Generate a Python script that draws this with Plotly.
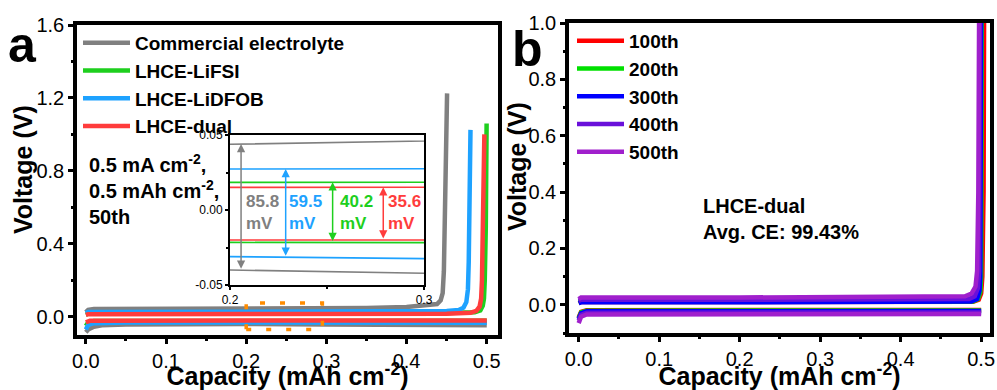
import numpy as np
import plotly.graph_objects as go

# ---------------- data: panel a ----------------
comm_strip_cap = [0, 0.003, 0.01, 0.1, 0.2, 0.3, 0.35, 0.4, 0.43, 0.438, 0.4425, 0.445, 0.4465, 0.448, 0.4505]
comm_strip_v = [0.025, 0.038, 0.042, 0.043, 0.0438, 0.046, 0.048, 0.053, 0.062, 0.07, 0.09, 0.13, 0.25, 0.55, 1.225]
comm_dep_cap = [0, 0.003, 0.01, 0.02, 0.05, 0.1, 0.2, 0.3, 0.4, 0.5]
comm_dep_v = [-0.085, -0.07, -0.055, -0.047, -0.042, -0.040, -0.040, -0.0422, -0.044, -0.046]

fsi_strip_cap = [0, 0.003, 0.2, 0.3, 0.45, 0.485, 0.492, 0.495, 0.4965, 0.4975, 0.4988, 0.4998]
fsi_strip_v = [0.012, 0.017, 0.0184, 0.0185, 0.020, 0.025, 0.035, 0.06, 0.1, 0.2, 0.5, 1.06]
fsi_dep_cap = [0, 0.003, 0.01, 0.2, 0.3, 0.5]
fsi_dep_v = [-0.05, -0.03, -0.023, -0.0216, -0.0218, -0.022]

dfob_strip_cap = [0, 0.003, 0.2, 0.3, 0.4, 0.45, 0.465, 0.471, 0.4745, 0.4765, 0.4775, 0.4785, 0.4797]
dfob_strip_v = [0.02, 0.026, 0.0273, 0.0275, 0.029, 0.032, 0.037, 0.05, 0.08, 0.15, 0.3, 0.6, 1.025]
dfob_dep_cap = [0, 0.003, 0.01, 0.05, 0.2, 0.3, 0.5]
dfob_dep_v = [-0.07, -0.045, -0.035, -0.031, -0.0311, -0.0324, -0.033]

dual_strip_cap = [0, 0.003, 0.2, 0.3, 0.45, 0.48, 0.487, 0.491, 0.493, 0.494, 0.4955, 0.497]
dual_strip_v = [0.010, 0.014, 0.0151, 0.0152, 0.017, 0.022, 0.032, 0.055, 0.1, 0.2, 0.5, 1.0]
dual_dep_cap = [0, 0.005, 0.2, 0.3, 0.5]
dual_dep_v = [-0.03, -0.022, -0.020, -0.020, -0.020]

names_a = ["Commercial electrolyte", "LHCE-LiFSI", "LHCE-LiDFOB", "LHCE-dual"]
colors_a = ["#808080", "#1ECF1E", "#1EA2FF", "#FF3C3C"]
# overpotential (mV) for each series, same order as names_a
overpotential_labels = ["85.8", "40.2", "59.5", "35.6"]
arrow_cap = [0.2057, 0.2529, 0.2287, 0.279]
label_cap = [0.2167, 0.265, 0.239, 0.2897]
zoom_box_cap = [0.2, 0.295]
zoom_box_v = [-0.07, 0.075]
inset_xticks = [0.2, 0.3]
inset_xtext = ["0.2", "0.3"]
inset_yticks = [-0.05, 0.0, 0.05]
inset_ytext = ["-0.05", "0.00", "0.05"]

# ---------------- data: panel b ----------------
names_b = ["100th", "200th", "300th", "400th", "500th"]
colors_b = ["#FF0000", "#00E000", "#0000FF", "#6A10DA", "#A020CC"]
b_strip_cap = [
    [0, 0.003, 0.2, 0.49, 0.497, 0.5, 0.5015, 0.503, 0.5037],
    [0, 0.003, 0.2, 0.49, 0.496, 0.499, 0.5, 0.5005, 0.5008],
    [0, 0.003, 0.2, 0.488, 0.495, 0.498, 0.499, 0.4995, 0.5],
    [0, 0.003, 0.2, 0.485, 0.492, 0.496, 0.4975, 0.498, 0.4985],
    [0, 0.003, 0.2, 0.48, 0.488, 0.493, 0.495, 0.4965, 0.4975],
]
b_strip_v = [
    [0.006, 0.010, 0.010, 0.011, 0.018, 0.04, 0.1, 0.4, 1.05],
    [0.008, 0.011, 0.011, 0.012, 0.02, 0.045, 0.1, 0.4, 1.05],
    [0.006, 0.009, 0.009, 0.012, 0.02, 0.05, 0.1, 0.4, 1.05],
    [0.014, 0.018, 0.018, 0.021, 0.03, 0.06, 0.12, 0.4, 1.05],
    [0.02, 0.026, 0.026, 0.03, 0.04, 0.065, 0.12, 0.4, 1.05],
]
b_dep_cap = [
    [0, 0.003, 0.01, 0.2, 0.5],
    [0, 0.003, 0.01, 0.2, 0.5],
    [0, 0.003, 0.01, 0.2, 0.5],
    [0, 0.003, 0.01, 0.2, 0.5],
    [0, 0.003, 0.01, 0.2, 0.5],
]
b_dep_v = [
    [-0.045, -0.025, -0.019, -0.018, -0.018],
    [-0.048, -0.027, -0.021, -0.020, -0.020],
    [-0.05, -0.03, -0.023, -0.022, -0.022],
    [-0.055, -0.035, -0.028, -0.027, -0.027],
    [-0.065, -0.042, -0.034, -0.033, -0.033],
]

# ---------------- figure ----------------
FONT = "Liberation Sans, Arial, sans-serif"
W, H = 997, 390
fig = go.Figure()

a_strip = [(comm_strip_cap, comm_strip_v), (fsi_strip_cap, fsi_strip_v),
           (dfob_strip_cap, dfob_strip_v), (dual_strip_cap, dual_strip_v)]
a_dep = [(comm_dep_cap, comm_dep_v), (fsi_dep_cap, fsi_dep_v),
         (dfob_dep_cap, dfob_dep_v), (dual_dep_cap, dual_dep_v)]

for i in range(4):
    (sx, sy), (dx, dy) = a_strip[i], a_dep[i]
    fig.add_trace(go.Scatter(x=sx, y=sy, mode="lines", name=names_a[i],
                             line=dict(color=colors_a[i], width=4.5),
                             xaxis="x", yaxis="y", legend="legend", legendgroup=names_a[i]))
    fig.add_trace(go.Scatter(x=dx, y=dy, mode="lines", name=names_a[i], showlegend=False,
                             line=dict(color=colors_a[i], width=4.5),
                             xaxis="x", yaxis="y", legendgroup=names_a[i]))
# inset
for i in range(4):
    (sx, sy), (dx, dy) = a_strip[i], a_dep[i]
    for xx, yy in ((sx, sy), (dx, dy)):
        fig.add_trace(go.Scatter(x=xx, y=yy, mode="lines", showlegend=False,
                                 line=dict(color=colors_a[i], width=1.6),
                                 xaxis="x3", yaxis="y3"))

for i in range(5):
    fig.add_trace(go.Scatter(x=b_strip_cap[i], y=b_strip_v[i], mode="lines", name=names_b[i],
                             line=dict(color=colors_b[i], width=4.5),
                             xaxis="x2", yaxis="y2", legend="legend2", legendgroup=names_b[i]))
    fig.add_trace(go.Scatter(x=b_dep_cap[i], y=b_dep_v[i], mode="lines", name=names_b[i],
                             showlegend=False, line=dict(color=colors_b[i], width=4.5),
                             xaxis="x2", yaxis="y2", legendgroup=names_b[i]))

def px_x(p):
    return p / W

def px_y(p):
    return 1 - p / H

axis_common = dict(showline=True, linewidth=3.5, linecolor="black", mirror=True,
                   ticks="outside", ticklen=5, tickwidth=3, tickcolor="black",
                   showgrid=False, zeroline=False, automargin=False,
                   tickfont=dict(family=FONT, size=20, color="black"))
title_font = dict(family=FONT, size=25, color="black", weight="bold")
minor_common = dict(ticklen=2.5, tickwidth=3, ticks="outside", tickcolor="black")

fig.update_layout(
    width=W, height=H, margin=dict(l=0, r=0, t=0, b=0),
    paper_bgcolor="white", plot_bgcolor="white", template="none",
    xaxis=dict(domain=[px_x(77), px_x(498)], range=[-0.011, 0.514], dtick=0.1, tick0=0,
               tickformat=".1f", minor=dict(dtick=0.05, **minor_common),
               title=dict(text="Capacity (mAh cm<sup>-2</sup>)", font=title_font, standoff=0),
               anchor="y", **axis_common),
    yaxis=dict(domain=[px_y(335), px_y(25)], range=[-0.1, 1.6], dtick=0.4, tick0=0,
               tickformat=".1f", minor=dict(dtick=0.2, **minor_common),
               anchor="x", **axis_common),
    xaxis2=dict(domain=[px_x(569), px_x(990)], range=[-0.012, 0.511], dtick=0.1, tick0=0,
                tickformat=".1f", minor=dict(dtick=0.05, **minor_common),
                title=dict(text="Capacity (mAh cm<sup>-2</sup>)", font=title_font, standoff=0),
                anchor="y2", **axis_common),
    yaxis2=dict(domain=[px_y(333), px_y(23)], range=[-0.1, 1.0], dtick=0.2, tick0=0,
                tickformat=".1f", minor=dict(dtick=0.1, **minor_common),
                anchor="x2", **axis_common),
    xaxis3=dict(domain=[px_x(230), px_x(424)], range=[0.2, 0.3], tickvals=inset_xticks, ticktext=inset_xtext,
                minor=dict(tickvals=[0.25], ticklen=2, tickwidth=1.5, ticks="outside", tickcolor="black"),
                showline=True, linewidth=2, linecolor="black", mirror=True, ticks="outside",
                ticklen=3, tickwidth=1.5, tickcolor="black", showgrid=False, zeroline=False,
                automargin=False, anchor="y3", tickfont=dict(family=FONT, size=12, color="black")),
    yaxis3=dict(domain=[px_y(285), px_y(135)], range=[-0.05, 0.05], tickvals=inset_yticks, ticktext=inset_ytext,
                minor=dict(tickvals=[-0.025, 0.025], ticklen=2, tickwidth=1.5, ticks="outside", tickcolor="black"),
                showline=True, linewidth=2, linecolor="black", mirror=True, ticks="outside",
                ticklen=3, tickwidth=1.5, tickcolor="black", showgrid=False, zeroline=False,
                automargin=False, anchor="x3", tickfont=dict(family=FONT, size=12, color="black")),
    legend=dict(x=px_x(78), y=px_y(24), xanchor="left", yanchor="top", bgcolor="rgba(0,0,0,0)",
                font=dict(family=FONT, size=19, color="black", weight="bold"), itemwidth=47,
                tracegroupgap=0, borderwidth=0),
    legend2=dict(x=px_x(572), y=px_y(22), xanchor="left", yanchor="top", bgcolor="rgba(0,0,0,0)",
                 font=dict(family=FONT, size=19, color="black", weight="bold"), itemwidth=47,
                 tracegroupgap=0, borderwidth=0),
    showlegend=True,
)

# y-axis titles (placed slightly above the axis centre, as in the reference)
fig.add_annotation(x=px_x(23), y=px_y(170), xref="paper", yref="paper", text="Voltage (V)",
                   xanchor="center", yanchor="middle",
                   textangle=-90, showarrow=False, font=title_font)
fig.add_annotation(x=px_x(517), y=px_y(167), xref="paper", yref="paper", text="Voltage (V)",
                   xanchor="center", yanchor="middle",
                   textangle=-90, showarrow=False, font=title_font)

# zoom box on panel a
fig.add_shape(type="rect", xref="x", yref="y", x0=zoom_box_cap[0], x1=zoom_box_cap[1],
              y0=zoom_box_v[0], y1=zoom_box_v[1],
              line=dict(color="#FF8C00", width=3.5, dash="5px,15px"))

# overpotential arrows and labels in the inset
for i in range(4):
    (sx, sy), (dx, dy) = a_strip[i], a_dep[i]
    top = float(np.interp(arrow_cap[i], sx, sy))
    bot = float(np.interp(arrow_cap[i], dx, dy))
    fig.add_annotation(x=arrow_cap[i], y=top, ax=arrow_cap[i], ay=bot, xref="x3", yref="y3",
                       axref="x3", ayref="y3", showarrow=True, arrowhead=2, arrowside="end+start",
                       arrowsize=1.1, arrowwidth=1.5, arrowcolor=colors_a[i], text="")
    fig.add_annotation(x=label_cap[i], y=-0.0018, xref="x3", yref="y3", showarrow=False,
                       text=overpotential_labels[i] + "<br>mV", align="left",
                       font=dict(family=FONT, size=17, color=colors_a[i], weight="bold"))

# panel letters and notes
fig.add_annotation(x=px_x(22), y=px_y(15), xref="paper", yref="paper", text="a", showarrow=False,
                   xanchor="center", yanchor="top",
                   font=dict(family=FONT, size=50, color="black", weight="bold"))
fig.add_annotation(x=px_x(527), y=px_y(19), xref="paper", yref="paper", text="b", showarrow=False,
                   xanchor="center", yanchor="top",
                   font=dict(family=FONT, size=50, color="black", weight="bold"))
fig.add_annotation(x=px_x(87), y=px_y(189), xref="paper", yref="paper", xanchor="left",
                   text="0.5 mA cm<sup>-2</sup>,<br>0.5 mAh cm<sup>-2</sup>,<br>50th", align="left",
                   showarrow=False, font=dict(family=FONT, size=20, color="black", weight="bold"))
fig.add_annotation(x=px_x(701), y=px_y(219), xref="paper", yref="paper", xanchor="left",
                   text="LHCE-dual<br>Avg. CE: 99.43%", align="left",
                   showarrow=False, font=dict(family=FONT, size=20, color="black", weight="bold"))

fig.write_html("out.html")
